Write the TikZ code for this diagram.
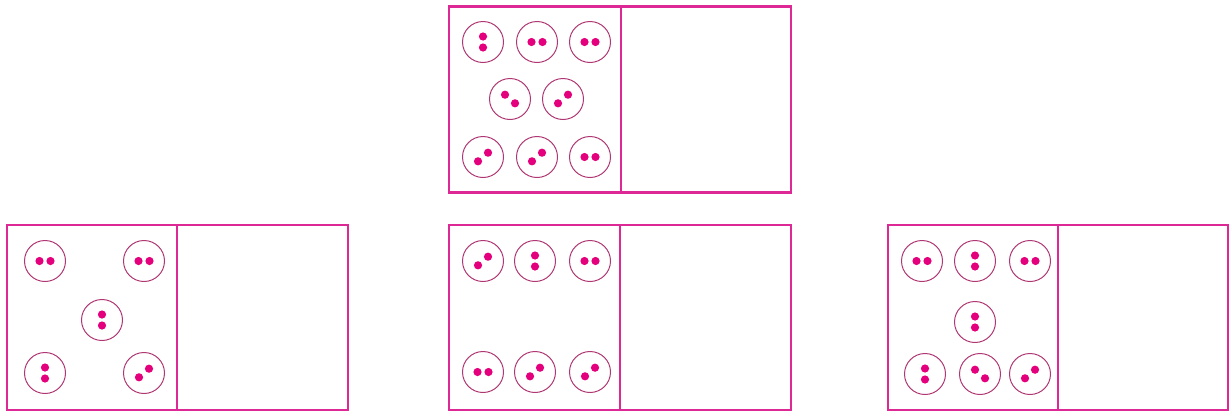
\documentclass[tikz,border=0pt]{standalone}
\usetikzlibrary{calc}
\definecolor{boxc}{RGB}{222,40,150}
\definecolor{ringc}{RGB}{175,55,115}
\definecolor{dotc}{RGB}{228,0,125}
\tikzset{
  panel/.style={draw=boxc,line width=2.4pt,inner sep=0pt,minimum height=186pt},
  chip/.style={circle,draw=ringc,line width=1pt,minimum size=41pt,inner sep=0pt},
  dotfill/.style={fill=dotc}
}
\newcommand\mychip[4]{%
  \node[chip] (#1) at (#2) {};
  \fill[dotfill] ($(#1)+(#3,#4)$) circle (4.1pt);
  \fill[dotfill] ($(#1)-(#3,#4)$) circle (4.1pt);
}
\begin{document}
\begin{tikzpicture}[x=1pt,y=-1pt]
\useasboundingbox (0,0) rectangle (1231,413);
% panels
\node[panel,minimum width=172pt] (tL) at (535,99.5) {};
\node[panel,minimum width=170pt] (tR) at (706,99.5) {};
\node[panel,minimum width=170pt,minimum height=185pt] (aL) at (92,317.5) {};
\node[panel,minimum width=171pt,minimum height=185pt] (aR) at (262.5,317.5) {};
\node[panel,minimum width=171pt,minimum height=185pt] (bL) at (534.5,317.5) {};
\node[panel,minimum width=171pt,minimum height=185pt] (bR) at (705.5,317.5) {};
\node[panel,minimum width=170pt,minimum height=185pt] (cL) at (973,317.5) {};
\node[panel,minimum width=170pt,minimum height=185pt] (cR) at (1143,317.5) {};
% top panel chips
\mychip{t1}{483,42}{0}{5.5}
\mychip{t2}{537,42}{5.5}{0}
\mychip{t3}{590,42}{5.5}{0}
\mychip{t4}{510,99}{5}{4.3}
\mychip{t5}{563,99}{5}{-4.3}
\mychip{t6}{483,157}{5}{-4.3}
\mychip{t7}{537,157}{5}{-4.3}
\mychip{t8}{590,157}{5.5}{0}
% bottom-left panel chips
\mychip{a1}{45,261}{5.5}{0}
\mychip{a2}{144,261}{5.5}{0}
\mychip{a3}{102,320}{0}{5.5}
\mychip{a4}{45,373}{0}{5.5}
\mychip{a5}{144,373}{5}{-4.3}
% bottom-middle panel chips
\mychip{b1}{483,261}{5}{-4.3}
\mychip{b2}{535,261}{0}{5.5}
\mychip{b3}{590,261}{5.5}{0}
\mychip{b4}{483,372}{5.5}{0}
\mychip{b5}{535,372}{5}{-4.3}
\mychip{b6}{590,372}{5}{-4.3}
% bottom-right panel chips
\mychip{c1}{922,261}{5.5}{0}
\mychip{c2}{975,261}{0}{5.5}
\mychip{c3}{1030,261}{5.5}{0}
\mychip{c4}{975,322}{0}{5.5}
\mychip{c5}{925,374}{0}{5.5}
\mychip{c6}{980,374}{5}{4.3}
\mychip{c7}{1030,374}{5}{-4.3}
\end{tikzpicture}
\end{document}
